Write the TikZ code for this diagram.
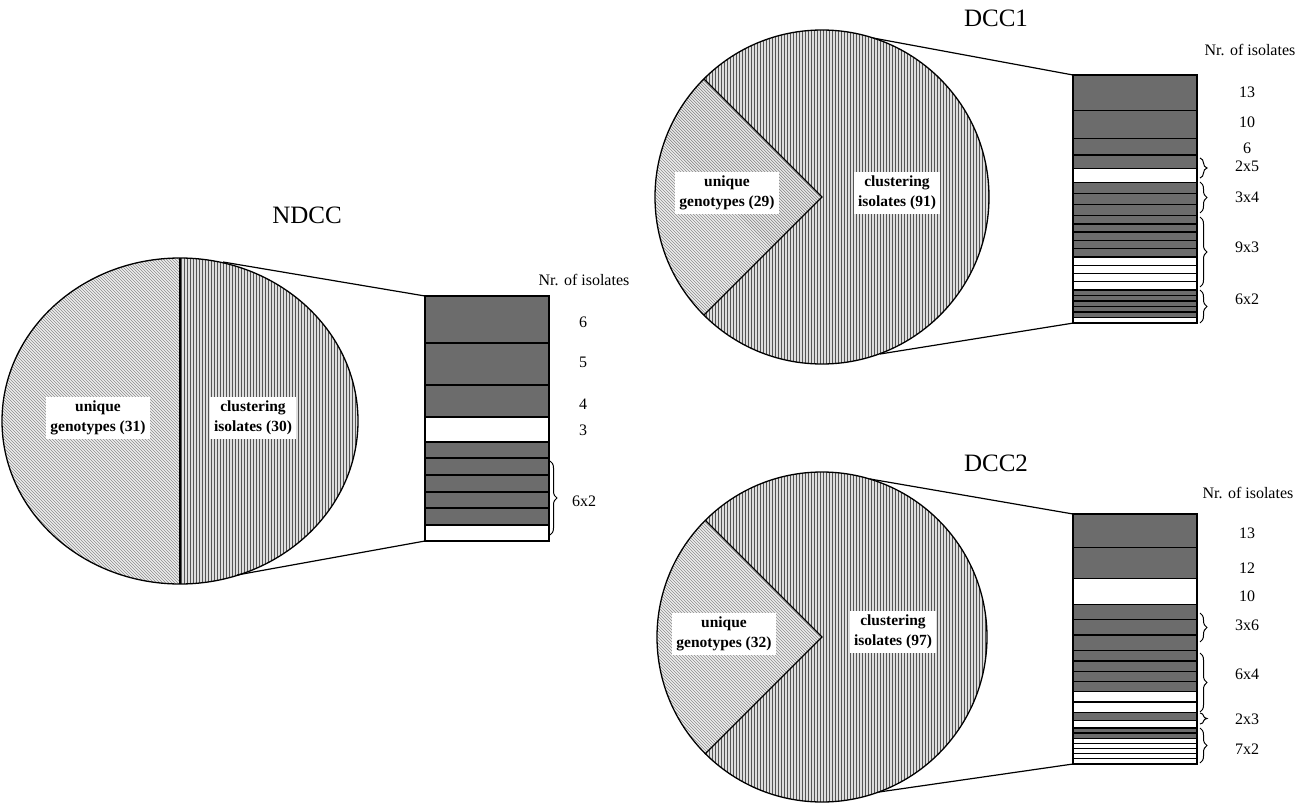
\documentclass[tikz,border=0pt]{standalone}
\usepackage{fontspec}
\setmainfont{Liberation Serif}
\usetikzlibrary{decorations.pathreplacing}
\definecolor{barfill}{RGB}{108,108,108}
\definecolor{clbg}{RGB}{222,222,222}
\definecolor{clline}{RGB}{85,85,85}
\definecolor{unbg}{RGB}{238,238,238}
\definecolor{unline}{RGB}{140,140,140}
\tikzset{
  dseg/.style={fill=barfill,draw=black,line width=1.3pt},
  wseg/.style={fill=white,draw=black,line width=1.3pt},
  outline/.style={draw=black,line width=1.3pt},
  conn/.style={draw=black,line width=1.2pt},
  pielabel/.style={fill=white,inner sep=4pt,align=center,font=\bfseries\fontsize{15.5}{20}\selectfont},
  num/.style={font=\fontsize{16}{18}\selectfont,inner sep=0pt},
  hdr/.style={font=\fontsize{16}{18}\selectfont,inner sep=0pt},
  ttl/.style={font=\fontsize{25}{28}\selectfont,inner sep=0pt},
  brc/.style={decorate,decoration={brace,amplitude=7pt},line width=1pt},
  cline/.style={clline,line width=0.9pt},
  uline/.style={unline,line width=0.7pt}
}
\newcommand{\barseg}[4]{\path[#4] (#1,-#2) rectangle (#1+124,-#3);}
\begin{document}
\begin{tikzpicture}[x=1pt,y=1pt]
\useasboundingbox (0,0) rectangle (1302,-803);

% ================= NDCC =================
\begin{scope}
  \clip (180,-258) arc[start angle=90,end angle=-90,x radius=178,y radius=163] -- cycle;
  \fill[clbg] (170,-250) rectangle (365,-590);
  \foreach \x in {181,184,...,362} \draw[cline] (\x,-250) -- (\x,-590);
\end{scope}
\begin{scope}
  \clip (180,-258) arc[start angle=90,end angle=270,x radius=178,y radius=163] -- cycle;
  \fill[unbg] (-5,-250) rectangle (185,-590);
  \foreach \x in {-350,-347,...,190} \draw[uline] (\x,-250) -- ++(340,-340);
\end{scope}
\draw[outline] (180,-421) ellipse[x radius=178,y radius=163];
\draw[outline] (180,-258) -- (180,-584);
\node[pielabel] (nu) at (98,-418) {unique\\genotypes (31)};
\node[pielabel] (nc) at (253,-418) {clustering\\isolates (30)};
\node[ttl] (nt) at (307,-215) {NDCC};

\barseg{425}{296}{343}{dseg}
\barseg{425}{343}{385}{dseg}
\barseg{425}{385}{417}{dseg}
\barseg{425}{417}{442}{wseg}
\barseg{425}{442}{458}{dseg}
\barseg{425}{458}{475}{dseg}
\barseg{425}{475}{492}{dseg}
\barseg{425}{492}{508}{dseg}
\barseg{425}{508}{525}{dseg}
\barseg{425}{525}{541}{wseg}
\coordinate (nbt) at (425,-296);
\coordinate (nbb) at (425,-541);
\coordinate (npt) at (223,-262);
\coordinate (npb) at (237,-575);
\draw[conn] (npt) -- (nbt);
\draw[conn] (npb) -- (nbb);
\node[hdr] (nh) at (584,-280) {Nr. of isolates};
\node[num] (n6) at (583,-322) {6};
\node[num] (n5) at (583,-362) {5};
\node[num] (n4) at (583,-404) {4};
\node[num] (n3) at (583,-430) {3};
\draw[brc] (550,-461) -- (550,-535);
\node[num] (n62) at (584,-501) {6x2};

% ================= DCC1 =================
\begin{scope}
  \clip (822,-197) circle[radius=167];
  \fill[clbg] (650,-25) rectangle (995,-370);
  \foreach \x in {652,655,...,995} \draw[cline] (\x,-25) -- (\x,-370);
\end{scope}
\begin{scope}
  \clip (822,-197) -- ++(135:167) arc[start angle=135,end angle=225,radius=167] -- cycle;
  \fill[unbg] (650,-25) rectangle (830,-370);
  \foreach \x in {300,303,...,830} \draw[uline] (\x,-25) -- ++(345,-345);
\end{scope}
\draw[outline] (822,-197) circle[radius=167];
\draw[outline] (822,-197) ++(135:167) -- (822,-197) -- ++(225:167);
\node[pielabel] (du1) at (727,-193) {unique\\genotypes (29)};
\node[pielabel] (dc1) at (897,-193) {clustering\\isolates (91)};
\node[ttl] (t1) at (996,-18) {DCC1};

\barseg{1073}{75}{110.8}{dseg}
\barseg{1073}{110.8}{138.4}{dseg}
\barseg{1073}{138.4}{154.9}{dseg}
\barseg{1073}{154.9}{168.7}{dseg}
\barseg{1073}{168.7}{182.5}{wseg}
\barseg{1073}{182.5}{193.5}{dseg}
\barseg{1073}{193.5}{204.5}{dseg}
\barseg{1073}{204.5}{215.6}{dseg}
\barseg{1073}{215.6}{223.9}{dseg}
\barseg{1073}{223.9}{232.1}{dseg}
\barseg{1073}{232.1}{240.4}{dseg}
\barseg{1073}{240.4}{248.7}{dseg}
\barseg{1073}{248.7}{256.9}{dseg}
\barseg{1073}{256.9}{265.2}{wseg}
\barseg{1073}{265.2}{273.5}{wseg}
\barseg{1073}{273.5}{281.7}{wseg}
\barseg{1073}{281.7}{290}{wseg}
\barseg{1073}{290}{295.5}{dseg}
\barseg{1073}{295.5}{301}{dseg}
\barseg{1073}{301}{306.5}{dseg}
\barseg{1073}{306.5}{312}{dseg}
\barseg{1073}{312}{317.6}{dseg}
\barseg{1073}{317.6}{323.1}{wseg}
\coordinate (d1bt) at (1073,-75);
\coordinate (d1bb) at (1073,-323.1);
\coordinate (d1pt) at (873,-38);
\coordinate (d1pb) at (880,-354);
\draw[conn] (d1pt) -- (d1bt);
\draw[conn] (d1pb) -- (d1bb);
\node[hdr] (h1) at (1250,-50) {Nr. of isolates};
\node[num] (a13) at (1247,-92) {13};
\node[num] (a10) at (1247,-122) {10};
\node[num] (a6) at (1247,-148) {6};
\draw[brc] (1200,-158) -- (1200,-178);
\node[num] (a25) at (1247,-166) {2x5};
\draw[brc] (1200,-182) -- (1200,-213);
\node[num] (a34) at (1247,-197) {3x4};
\draw[brc] (1200,-217) -- (1200,-287);
\node[num] (a93) at (1247,-247) {9x3};
\draw[brc] (1200,-290) -- (1200,-323);
\node[num] (a62) at (1247,-299) {6x2};

% ================= DCC2 =================
\begin{scope}
  \clip (822,-637) circle[radius=165];
  \fill[clbg] (650,-465) rectangle (995,-805);
  \foreach \x in {652,655,...,995} \draw[cline] (\x,-465) -- (\x,-805);
\end{scope}
\begin{scope}
  \clip (822,-637) -- ++(135:165) arc[start angle=135,end angle=225,radius=165] -- cycle;
  \fill[unbg] (650,-465) rectangle (830,-805);
  \foreach \x in {300,303,...,830} \draw[uline] (\x,-465) -- ++(340,-340);
\end{scope}
\draw[outline] (822,-637) circle[radius=165];
\draw[outline] (822,-637) ++(135:165) -- (822,-637) -- ++(225:165);
\node[pielabel] (du2) at (724,-634) {unique\\genotypes (32)};
\node[pielabel] (dc2) at (893,-632) {clustering\\isolates (97)};
\node[ttl] (t2) at (996,-463) {DCC2};

\barseg{1073}{514}{547.5}{dseg}
\barseg{1073}{547.5}{578.4}{dseg}
\barseg{1073}{578.4}{604.2}{wseg}
\barseg{1073}{604.2}{619.7}{dseg}
\barseg{1073}{619.7}{635.1}{dseg}
\barseg{1073}{635.1}{650.6}{dseg}
\barseg{1073}{650.6}{660.9}{dseg}
\barseg{1073}{660.9}{671.2}{dseg}
\barseg{1073}{671.2}{681.5}{dseg}
\barseg{1073}{681.5}{691.8}{dseg}
\barseg{1073}{691.8}{702.1}{wseg}
\barseg{1073}{702.1}{712.4}{wseg}
\barseg{1073}{712.4}{720.2}{dseg}
\barseg{1073}{720.2}{727.9}{wseg}
\barseg{1073}{727.9}{733}{dseg}
\barseg{1073}{733}{738.2}{dseg}
\barseg{1073}{738.2}{743.3}{wseg}
\barseg{1073}{743.3}{748.5}{wseg}
\barseg{1073}{748.5}{753.6}{wseg}
\barseg{1073}{753.6}{758.8}{wseg}
\barseg{1073}{758.8}{764}{wseg}
\coordinate (d2bt) at (1073,-514);
\coordinate (d2bb) at (1073,-764);
\coordinate (d2pt) at (870,-479);
\coordinate (d2pb) at (879,-792);
\draw[conn] (d2pt) -- (d2bt);
\draw[conn] (d2pb) -- (d2bb);
\node[hdr] (h2) at (1248,-493) {Nr. of isolates};
\node[num] (b13) at (1247,-533) {13};
\node[num] (b12) at (1247,-568) {12};
\node[num] (b10) at (1247,-596) {10};
\draw[brc] (1200,-613) -- (1200,-642);
\node[num] (b36) at (1247,-625) {3x6};
\draw[brc] (1200,-653) -- (1200,-712);
\node[num] (b64) at (1247,-674) {6x4};
\draw[brc] (1200,-713) -- (1200,-724);
\node[num] (b23) at (1247,-719) {2x3};
\draw[brc] (1200,-728) -- (1200,-763);
\node[num] (b72) at (1247,-749) {7x2};
\end{tikzpicture}
\end{document}
